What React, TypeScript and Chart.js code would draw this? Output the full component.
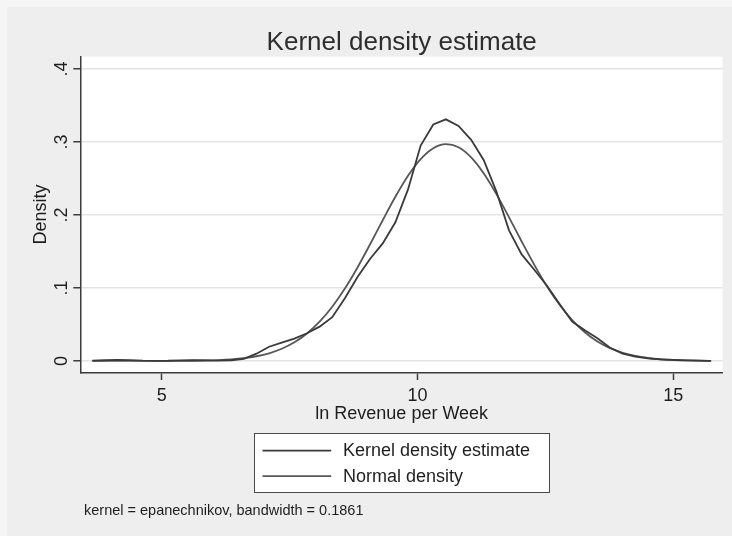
import React, { useEffect, useRef } from "react";
import { Chart, registerables } from "chart.js";

Chart.register(...registerables);

// ---- data ----
const xGrid = [
  3.645, 3.892, 4.139, 4.385, 4.632, 4.879, 5.126, 5.373, 5.619, 5.866,
  6.113, 6.36, 6.607, 6.853, 7.1, 7.347, 7.594, 7.841, 8.087, 8.334,
  8.581, 8.828, 9.075, 9.321, 9.568, 9.815, 10.062, 10.309, 10.555, 10.802,
  11.049, 11.296, 11.543, 11.789, 12.036, 12.283, 12.53, 12.777, 13.023, 13.27,
  13.517, 13.764, 14.011, 14.257, 14.504, 14.751, 14.998, 15.245, 15.491, 15.738,
];

const kernelDensity = [
  0.0004, 0.001, 0.0015, 0.0012, 0.0005, 0.0002, 0.0003, 0.0008, 0.001, 0.0008,
  0.0006, 0.001, 0.003, 0.01, 0.0195, 0.025, 0.0305, 0.038, 0.047, 0.06,
  0.086, 0.115, 0.14, 0.161, 0.19, 0.235, 0.295, 0.324, 0.331, 0.322,
  0.303, 0.275, 0.232, 0.179, 0.146, 0.125, 0.103, 0.078, 0.054, 0.042,
  0.031, 0.018, 0.01, 0.006, 0.0035, 0.0022, 0.0014, 0.0008, 0.0004, 0.0002,
];

const normalDensity = [
  0.0, 0.0, 0.0, 0.0, 0.00002, 0.00004, 0.00008, 0.00017, 0.00033, 0.00064,
  0.00121, 0.00218, 0.00382, 0.00645, 0.01055, 0.01668, 0.02551, 0.0377, 0.0538, 0.0743,
  0.0992, 0.1281, 0.1599, 0.1928, 0.2249, 0.2537, 0.2766, 0.2915, 0.2971, 0.2927,
  0.2788, 0.2567, 0.2285, 0.1968, 0.1637, 0.1317, 0.1024, 0.077, 0.056, 0.0394,
  0.0267, 0.0176, 0.01115, 0.00686, 0.00407, 0.00233, 0.0013, 0.0007, 0.00036, 0.00018,
];

const xTickValues = [5, 10, 15];
const xTickLabels = ["5", "10", "15"];
const yTickValues = [0, 0.1, 0.2, 0.3, 0.4];
const yTickLabels = ["0", ".1", ".2", ".3", ".4"];
const seriesLabels = ["Kernel density estimate", "Normal density"];
const chartTitle = "Kernel density estimate";
const xAxisTitle = "ln Revenue per Week";
const yAxisTitle = "Density";
const noteText = "kernel = epanechnikov, bandwidth = 0.1861";

// ---- styles ----
const FONT = "'Liberation Sans', Arial, Helvetica, sans-serif";
const TEXT = "#1e1e1e";
const AXIS = "#3c3c3c";
const LINE_COLORS = ["#3a3a3a", "#575757"];

function labelFor(values: number[], labels: string[], v: number): string {
  for (let i = 0; i < values.length; i++) {
    if (Math.abs(values[i] - v) < 1e-9) return labels[i];
  }
  return "";
}

const backgroundPlugin = {
  id: "stataBackground",
  beforeDraw(chart: any) {
    const { ctx, width, height, chartArea } = chart;
    ctx.save();
    ctx.fillStyle = "#f5f5f5";
    ctx.fillRect(0, 0, width, height);
    ctx.fillStyle = "#eeeeee";
    ctx.fillRect(7, 7, width - 7, height - 7);
    ctx.fillStyle = "#ffffff";
    ctx.fillRect(
      chartArea.left,
      chartArea.top,
      chartArea.right - chartArea.left,
      chartArea.bottom - chartArea.top
    );
    ctx.restore();
  },
};

const textPlugin = {
  id: "stataText",
  afterDraw(chart: any) {
    const { ctx, chartArea } = chart;
    ctx.save();
    const cx = (chartArea.left + chartArea.right) / 2;

    // title
    ctx.fillStyle = "#2e2e2e";
    ctx.font = `26px ${FONT}`;
    ctx.textAlign = "center";
    ctx.textBaseline = "middle";
    ctx.fillText(chartTitle, cx, 42.5);

    // legend
    const boxW = 295;
    const boxH = 59;
    const boxX = cx - boxW / 2;
    const boxY = 433.3;
    ctx.fillStyle = "#ffffff";
    ctx.fillRect(boxX, boxY, boxW, boxH);
    ctx.strokeStyle = "#4a4a4a";
    ctx.lineWidth = 1;
    ctx.strokeRect(Math.round(boxX) + 0.5, Math.round(boxY) + 0.5, boxW, boxH);

    const rows = [boxY + 17.4, boxY + 42.8];
    chart.data.datasets.forEach((ds: any, i: number) => {
      const y = rows[i];
      ctx.strokeStyle = ds.borderColor;
      ctx.lineWidth = 1.8;
      ctx.beginPath();
      ctx.moveTo(boxX + 8.3, y);
      ctx.lineTo(boxX + 77, y);
      ctx.stroke();
      ctx.fillStyle = TEXT;
      ctx.font = `18px ${FONT}`;
      ctx.textAlign = "left";
      ctx.textBaseline = "middle";
      ctx.fillText(ds.label, boxX + 88.7, y + 0.5);
    });

    // note
    ctx.fillStyle = TEXT;
    ctx.font = `14.5px ${FONT}`;
    ctx.textAlign = "left";
    ctx.textBaseline = "middle";
    ctx.fillText(noteText, 84, 511);
    ctx.restore();
  },
};

export default function App() {
  const canvasRef = useRef<HTMLCanvasElement | null>(null);

  useEffect(() => {
    const canvas = canvasRef.current;
    if (!canvas) return;
    const chart = new Chart(canvas, {
      type: "line",
      data: {
        datasets: [
          {
            label: seriesLabels[0],
            data: xGrid.map((x, i) => ({ x, y: kernelDensity[i] })),
            borderColor: LINE_COLORS[0],
            borderWidth: 1.8,
            pointRadius: 0,
            tension: 0,
            fill: false,
          },
          {
            label: seriesLabels[1],
            data: xGrid.map((x, i) => ({ x, y: normalDensity[i] })),
            borderColor: LINE_COLORS[1],
            borderWidth: 1.8,
            pointRadius: 0,
            cubicInterpolationMode: "monotone",
            fill: false,
          },
        ],
      },
      options: {
        animation: false,
        responsive: false,
        maintainAspectRatio: false,
        devicePixelRatio: 1,
        layout: { padding: { left: 0, right: 9.3, top: 56.7, bottom: 111.5 } },
        plugins: {
          legend: { display: false },
          tooltip: { enabled: false },
          title: { display: false },
        },
        scales: {
          x: {
            type: "linear",
            min: 3.418,
            max: 15.965,
            afterBuildTicks: (s: any) => {
              s.ticks = xTickValues.map((v) => ({ value: v }));
            },
            afterFit: (s: any) => {
              s.height = 52;
            },
            grid: {
              drawOnChartArea: false,
              drawTicks: true,
              tickLength: 7.5,
              tickColor: AXIS,
              tickWidth: 1.5,
            },
            border: { display: true, color: AXIS, width: 1.5 },
            ticks: {
              color: TEXT,
              font: { family: FONT, size: 18 },
              padding: 5,
              maxRotation: 0,
              minRotation: 0,
              autoSkip: false,
              callback: (v: any) => labelFor(xTickValues, xTickLabels, Number(v)),
            },
            title: {
              display: true,
              text: xAxisTitle,
              color: TEXT,
              font: { family: FONT, size: 18, lineHeight: 1.2 },
              padding: { top: 0, bottom: 0 },
            },
          },
          y: {
            type: "linear",
            min: -0.0158,
            max: 0.4168,
            afterBuildTicks: (s: any) => {
              s.ticks = yTickValues.map((v) => ({ value: v }));
            },
            afterFit: (s: any) => {
              s.width = 80.7;
            },
            grid: {
              color: "#e4e4e4",
              lineWidth: 1.5,
              drawTicks: true,
              tickLength: 7.4,
              tickColor: AXIS,
              tickWidth: 1.5,
            },
            border: { display: true, color: AXIS, width: 1.5 },
            ticks: {
              color: TEXT,
              font: { family: FONT, size: 18 },
              padding: 4,
              minRotation: 90,
              maxRotation: 90,
              crossAlign: "center",
              autoSkip: false,
              callback: (v: any) => labelFor(yTickValues, yTickLabels, Number(v)),
            },
            title: {
              display: true,
              text: yAxisTitle,
              color: TEXT,
              font: { family: FONT, size: 18, lineHeight: 1.2 },
              padding: { top: 30, bottom: 0 },
            },
          },
        },
      } as any,
      plugins: [backgroundPlugin, textPlugin],
    });
    return () => chart.destroy();
  }, []);

  return (
    <div
      style={{
        position: "fixed",
        left: 0,
        top: 0,
        width: 732,
        height: 536,
        background: "#eeeeee",
      }}
    >
      <canvas ref={canvasRef} width={732} height={536} style={{ display: "block" }} />
    </div>
  );
}
